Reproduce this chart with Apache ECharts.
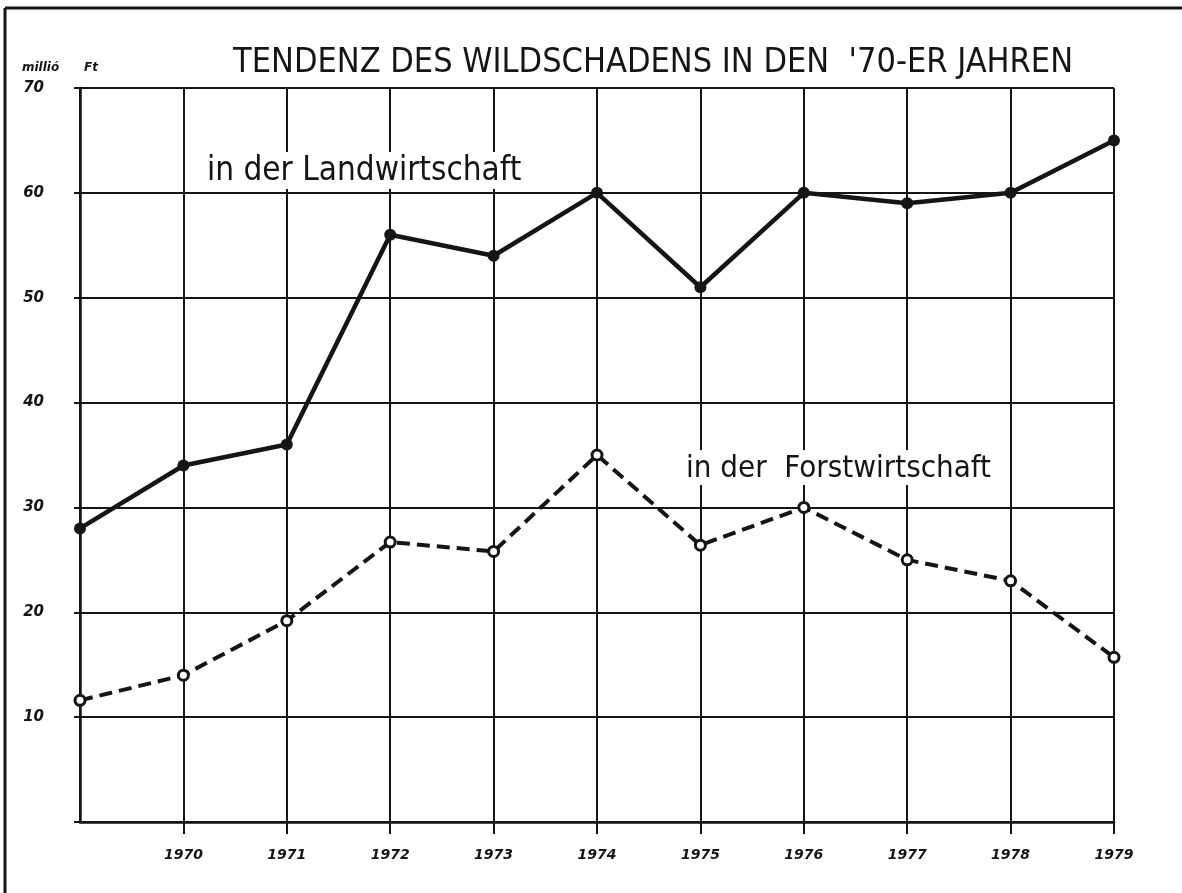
<!DOCTYPE html>
<html>
<head>
<meta charset="utf-8">
<script src="https://cdn.jsdelivr.net/npm/echarts@6/dist/echarts.min.js"></script>
<style>
  html, body { margin: 0; padding: 0; background: #fff; }
  #main { width: 1182px; height: 893px; }
</style>
</head>
<body>
<div id="main"></div>
<script>
// Jahre (erster Punkt ohne Beschriftung)
const years = ['', '1970', '1971', '1972', '1973', '1974', '1975', '1976', '1977', '1978', '1979'];
// Wildschaden, millió Ft
const landwirtschaft = [28, 34, 36, 56, 54, 60, 51, 60, 59, 60, 65];
const forstwirtschaft = [11.6, 14, 19.2, 26.7, 25.8, 35, 26.4, 30, 25, 23, 15.7];

const ink = '#151515';
const handFont = "'Liberation Sans Narrow', 'DejaVu Sans Condensed', sans-serif";

const myChart = echarts.init(document.getElementById('main'));

myChart.setOption({
    backgroundColor: '#fff',
    animation: false,
    grid: { left: 80, right: 68, top: 88, bottom: 71 },
    xAxis: {
        type: 'category',
        data: years,
        boundaryGap: false,
        axisLine: { lineStyle: { color: ink, width: 2.5 } },
        axisTick: {
            show: true, length: 12, lineStyle: { color: ink, width: 2 },
            interval: function (i) { return i > 0; }
        },
        axisLabel: {
            color: ink,
            fontFamily: 'DejaVu Sans',
            fontStyle: 'italic',
            fontWeight: 'bold',
            fontSize: 14,
            margin: 26
        },
        splitLine: { show: true, lineStyle: { color: ink, width: 2 } }
    },
    yAxis: {
        type: 'value',
        min: 0,
        max: 70,
        interval: 10,
        axisLine: { show: true, lineStyle: { color: ink, width: 2.5 } },
        axisTick: { show: true, length: 6, lineStyle: { color: ink, width: 2 } },
        axisLabel: {
            color: ink,
            fontFamily: 'DejaVu Sans',
            fontStyle: 'italic',
            fontWeight: 'bold',
            fontSize: 15,
            margin: 36,
            formatter: function (v) { return v === 0 ? '' : v; }
        },
        splitLine: { show: true, lineStyle: { color: ink, width: 2 } }
    },
    series: [
        {
            name: 'in der Landwirtschaft',
            type: 'line',
            data: landwirtschaft,
            symbol: 'circle',
            symbolSize: 12,
            itemStyle: { color: ink },
            lineStyle: { color: ink, width: 4.5 },
            z: 5
        },
        {
            name: 'in der Forstwirtschaft',
            type: 'line',
            data: forstwirtschaft,
            symbol: 'circle',
            symbolSize: 10,
            itemStyle: { color: '#fff', borderColor: ink, borderWidth: 3 },
            lineStyle: { color: ink, width: 4, type: [13, 7] },
            z: 5
        }
    ],
    graphic: [
        // Rahmen
        { type: 'line', shape: { x1: 5, y1: 8, x2: 5, y2: 893 }, style: { stroke: ink, lineWidth: 3 } },
        { type: 'line', shape: { x1: 5, y1: 8, x2: 1182, y2: 8 }, style: { stroke: ink, lineWidth: 3 } },
        {
            type: 'text', left: 233, top: 46, z: 10,
            style: { text: "TENDENZ DES WILDSCHADENS IN DEN  '70-ER JAHREN", fill: ink, font: '34px ' + handFont }
        },
        {
            type: 'text', left: 22, top: 62, z: 10,
            style: { text: 'millió', fill: ink, font: 'italic bold 12px DejaVu Sans' }
        },
        {
            type: 'text', left: 84, top: 62, z: 10,
            style: { text: 'Ft', fill: ink, font: 'italic bold 12px DejaVu Sans' }
        },
        {
            type: 'text', left: 202, top: 152, z: 10,
            style: {
                text: 'in der Landwirtschaft', fill: ink, font: '33px ' + handFont,
                backgroundColor: '#fff', padding: [3, 5, 1, 5]
            }
        },
        {
            type: 'text', left: 681, top: 450, z: 10,
            style: {
                text: 'in der  Forstwirtschaft', fill: ink, font: '31px ' + handFont,
                backgroundColor: '#fff', padding: [3, 5, 1, 5]
            }
        }
    ]
});
</script>
</body>
</html>
